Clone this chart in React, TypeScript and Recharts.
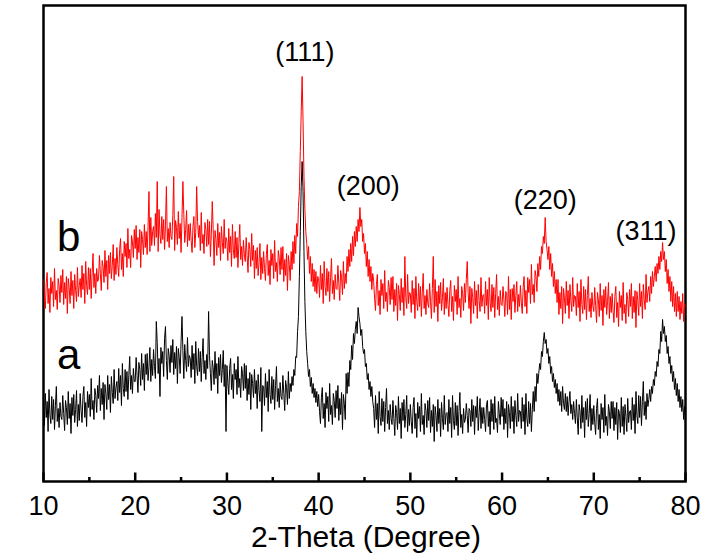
import React from "react";
import { LineChart, Line, XAxis, YAxis, ReferenceArea, ReferenceDot, Label } from "recharts";

// Scan grid (2-Theta, degrees)
const SCAN_START = 10;
const SCAN_STEP = 0.1;

// Sample a (black) intensity, a.u., one value per 0.1 degree from 10 to 80 (rows of 2 degrees)
const seriesA = [
  75, 56, 88, 64, 80, 50, 92, 67, 58, 85, 62, 82, 52, 76, 95, 60, 73, 54, 79, 65,
  62, 86, 68, 51, 81, 74, 57, 90, 63, 78, 48, 84, 66, 87, 59, 72, 91, 55, 77, 61,
  88, 71, 59, 85, 95, 64, 79, 55, 90, 74, 87, 65, 103, 72, 81, 62, 93, 86, 69, 96,
  83, 106, 71, 93, 77, 99, 62, 97, 88, 72, 106, 82, 97, 69, 105, 89, 78, 112, 83, 94,
  100, 81, 113, 89, 106, 76, 118, 93, 85, 112, 90, 110, 82, 106, 125, 92, 106, 88, 113, 100,
  100, 124, 106, 89, 119, 112, 96, 128, 102, 118, 91, 127, 107, 128, 101, 115, 134, 100, 122, 106,
  132, 115, 103, 160, 139, 108, 123, 85, 134, 118, 130, 105, 143, 155, 121, 102, 133, 126, 109, 136,
  119, 142, 107, 129, 113, 135, 98, 133, 124, 108, 140, 165, 131, 103, 137, 121, 110, 144, 115, 126,
  123, 104, 136, 112, 128, 98, 140, 115, 106, 133, 110, 130, 100, 124, 143, 108, 121, 102, 127, 113,
  170, 126, 108, 91, 121, 114, 97, 130, 103, 118, 88, 124, 106, 127, 99, 112, 131, 95, 117, 50,
  116, 99, 87, 113, 123, 92, 107, 83, 118, 102, 112, 87, 125, 94, 103, 84, 115, 108, 91, 118,
  93, 116, 81, 103, 87, 109, 72, 107, 98, 84, 112, 88, 101, 73, 107, 91, 80, 114, 50, 96,
  95, 76, 108, 84, 100, 70, 112, 87, 78, 105, 82, 102, 72, 96, 115, 80, 93, 74, 99, 85,
  82, 106, 88, 71, 101, 94, 77, 110, 83, 98, 90, 105, 96, 112, 106, 125, 124, 150, 165, 205,
  250, 295, 320, 290, 230, 180, 150, 130, 118, 105, 112, 95, 104, 88, 98, 84, 93, 79, 90, 75,
  87, 70, 58, 84, 94, 63, 78, 54, 89, 73, 85, 60, 98, 67, 76, 57, 88, 81, 64, 91,
  73, 96, 61, 83, 67, 89, 52, 87, 78, 62, 108, 88, 109, 95, 121, 112, 136, 122, 148, 138,
  152, 160, 148, 174, 165, 158, 146, 152, 135, 128, 132, 115, 118, 102, 108, 92, 100, 85, 95, 80,
  73, 54, 86, 62, 78, 48, 90, 65, 56, 83, 60, 80, 50, 74, 93, 58, 71, 52, 77, 63,
  57, 81, 63, 46, 76, 69, 52, 85, 58, 73, 43, 79, 61, 82, 54, 67, 86, 50, 72, 56,
  77, 60, 48, 74, 84, 53, 68, 44, 79, 63, 75, 50, 88, 57, 66, 47, 78, 71, 54, 81,
  61, 84, 49, 71, 55, 77, 40, 75, 66, 50, 82, 58, 73, 45, 79, 63, 52, 86, 57, 68,
  69, 50, 82, 58, 74, 44, 86, 61, 52, 79, 56, 76, 46, 70, 89, 54, 67, 48, 73, 59,
  62, 78, 66, 49, 73, 71, 55, 82, 60, 76, 47, 75, 64, 85, 51, 69, 83, 53, 74, 58,
  74, 62, 50, 77, 81, 55, 70, 47, 82, 60, 78, 52, 85, 59, 63, 49, 80, 68, 57, 84,
  65, 82, 52, 73, 58, 80, 44, 77, 69, 53, 85, 60, 75, 48, 81, 66, 55, 88, 60, 71,
  70, 53, 84, 60, 77, 47, 88, 63, 55, 80, 58, 78, 50, 72, 90, 70, 95, 80, 108, 98,
  108, 118, 112, 130, 125, 140, 149, 138, 142, 128, 133, 118, 125, 108, 115, 100, 108, 94, 102, 88,
  98, 80, 92, 76, 90, 70, 95, 78, 72, 88, 70, 85, 66, 80, 90, 68, 77, 62, 80, 68,
  58, 82, 64, 47, 77, 70, 53, 86, 59, 74, 44, 80, 62, 83, 55, 68, 87, 51, 73, 57,
  76, 59, 47, 73, 83, 52, 67, 43, 78, 62, 74, 49, 87, 56, 65, 46, 77, 70, 53, 80,
  63, 80, 51, 74, 57, 79, 42, 72, 68, 49, 84, 55, 75, 47, 77, 65, 50, 83, 59, 70,
  71, 52, 84, 61, 77, 48, 90, 66, 58, 86, 64, 85, 56, 80, 100, 66, 80, 62, 88, 75,
  82, 92, 80, 95, 88, 102, 96, 110, 105, 120, 115, 132, 128, 150, 140, 162, 148, 155, 140, 146,
  128, 135, 118, 125, 108, 116, 100, 110, 92, 103, 86, 98, 80, 92, 74, 85, 70, 82, 62, 75,
  66,
];

// Sample b (red) intensity, a.u., same scan grid
const seriesB = [
  202, 185, 173, 199, 209, 178, 193, 169, 204, 188, 200, 175, 213, 182, 191, 172, 203, 196, 179, 206,
  189, 212, 177, 199, 183, 205, 168, 203, 194, 178, 210, 186, 201, 173, 207, 191, 180, 214, 185, 196,
  203, 184, 216, 192, 208, 178, 220, 196, 187, 214, 192, 213, 183, 208, 228, 194, 208, 188, 213, 200,
  202, 226, 208, 191, 221, 215, 199, 231, 205, 221, 192, 226, 208, 229, 203, 216, 237, 201, 223, 207,
  234, 217, 205, 232, 243, 212, 228, 205, 240, 225, 238, 214, 253, 223, 232, 214, 246, 240, 224, 252,
  233, 256, 222, 244, 229, 252, 214, 250, 242, 227, 257, 234, 250, 227, 255, 290, 230, 264, 236, 250,
  255, 236, 268, 244, 300, 230, 272, 247, 238, 265, 242, 262, 232, 256, 295, 240, 253, 234, 259, 245,
  242, 266, 305, 231, 261, 254, 237, 270, 243, 258, 229, 264, 300, 267, 239, 252, 271, 235, 257, 241,
  258, 241, 229, 255, 265, 234, 249, 295, 260, 244, 256, 231, 269, 238, 247, 228, 259, 252, 235, 262,
  237, 260, 225, 247, 280, 253, 216, 251, 242, 226, 258, 234, 249, 221, 255, 239, 228, 262, 233, 244,
  240, 221, 253, 229, 245, 215, 257, 232, 223, 250, 224, 244, 214, 238, 257, 222, 235, 216, 241, 227,
  220, 244, 226, 209, 239, 232, 215, 248, 221, 236, 203, 231, 213, 234, 206, 219, 238, 202, 224, 208,
  230, 213, 201, 227, 237, 206, 221, 197, 232, 216, 228, 203, 241, 210, 219, 200, 231, 224, 207, 234,
  212, 235, 200, 222, 206, 228, 191, 226, 217, 201, 230, 212, 240, 218, 246, 228, 258, 245, 275, 290,
  330, 370, 405, 360, 305, 272, 250, 238, 222, 235, 208, 225, 200, 218, 195, 212, 190, 210, 188, 205,
  203, 184, 216, 192, 208, 178, 220, 195, 186, 213, 190, 210, 180, 204, 223, 188, 201, 182, 207, 193,
  192, 216, 198, 181, 211, 204, 187, 220, 193, 208, 198, 225, 210, 232, 215, 238, 220, 245, 226, 250,
  235, 255, 240, 262, 250, 274, 255, 262, 240, 248, 228, 238, 215, 230, 205, 222, 200, 215, 192, 208,
  200, 183, 171, 197, 207, 176, 191, 167, 202, 186, 198, 173, 211, 180, 189, 170, 201, 194, 177, 204,
  182, 205, 170, 192, 176, 198, 161, 196, 187, 171, 203, 179, 194, 166, 225, 184, 173, 207, 178, 189,
  188, 169, 201, 177, 193, 163, 205, 180, 171, 198, 175, 195, 165, 189, 208, 173, 186, 167, 192, 178,
  174, 198, 180, 163, 193, 225, 169, 202, 175, 190, 160, 196, 178, 199, 171, 184, 203, 167, 189, 173,
  194, 177, 165, 191, 201, 170, 185, 161, 196, 180, 192, 167, 205, 174, 183, 164, 195, 188, 171, 198,
  179, 202, 220, 189, 173, 195, 158, 193, 184, 168, 200, 176, 191, 163, 197, 181, 170, 204, 175, 186,
  187, 168, 200, 176, 192, 162, 204, 179, 170, 197, 174, 194, 164, 188, 207, 172, 185, 166, 191, 177,
  176, 195, 182, 165, 190, 188, 167, 205, 172, 192, 162, 193, 180, 197, 169, 186, 200, 170, 187, 175,
  196, 179, 168, 194, 205, 175, 191, 168, 204, 189, 202, 178, 217, 187, 197, 179, 211, 205, 190, 218,
  205, 225, 212, 235, 228, 245, 238, 264, 240, 232, 222, 235, 212, 228, 205, 218, 195, 210, 188, 202,
  179, 202, 167, 189, 173, 195, 158, 193, 184, 168, 200, 176, 191, 163, 197, 181, 170, 204, 175, 186,
  185, 166, 198, 174, 190, 160, 202, 177, 168, 195, 172, 192, 162, 186, 205, 170, 183, 164, 189, 175,
  170, 194, 176, 159, 189, 182, 165, 198, 171, 186, 156, 192, 174, 195, 167, 180, 199, 163, 185, 169,
  188, 171, 159, 185, 195, 164, 179, 155, 190, 174, 186, 161, 199, 168, 177, 158, 189, 182, 165, 192,
  175, 198, 163, 185, 169, 191, 154, 190, 181, 166, 198, 175, 190, 163, 197, 182, 172, 207, 179, 190,
  195, 180, 205, 188, 210, 195, 205, 215, 200, 218, 208, 225, 212, 230, 220, 239, 222, 230, 210, 222,
  198, 212, 190, 205, 180, 200, 175, 195, 170, 188, 165, 190, 170, 185, 162, 180, 168, 188, 160, 178,
  175,
];

// X axis ticks
const xTicks = [10, 15, 20, 25, 30, 35, 40, 45, 50, 55, 60, 65, 70, 75, 80];
const xLabeledTicks = [10, 20, 30, 40, 50, 60, 70, 80];

// Peak annotations
const peakLabels = ["(111)", "(200)", "(220)", "(311)"];
const peakLabelAngles = [38.5, 45.4, 64.7, 75.7];
const peakLabelHeights = [430, 296, 282, 251];

// Series letter labels
const seriesLetters = ["b", "a"];
const seriesLetterAngles = [12.75, 12.75];
const seriesLetterHeights = [245, 127];

const FONT = '"Liberation Sans", Arial, Helvetica, sans-serif';

const data = seriesA.map((v, i) => ({
  t: Math.round((SCAN_START + i * SCAN_STEP) * 10) / 10,
  a: v,
  b: seriesB[i],
}));

const CustomTick = (props: any) => {
  const { x, y, payload } = props;
  const v = payload.value;
  const major = xLabeledTicks.includes(v);
  return (
    <g>
      <line x1={x} x2={x} y1={y} y2={y - (major ? 9 : 4.5)} stroke="#000" strokeWidth={2.5} />
      {major && (
        <text x={x} y={y + 33.5} textAnchor="middle" fontSize={27} fontFamily={FONT} fill="#000">
          {v}
        </text>
      )}
    </g>
  );
};

export default function App() {
  return (
    <div style={{ position: "absolute", left: 0, top: 0, width: 708, height: 560, background: "#fff" }}>
      <LineChart
        width={708}
        height={560}
        data={data}
        margin={{ top: 5.5, right: 22.5, bottom: 48.5, left: 43.5 }}
      >
        <XAxis
          dataKey="t"
          type="number"
          domain={[10, 80]}
          ticks={xTicks}
          interval={0}
          height={30}
          axisLine={false}
          tickLine={false}
          tickSize={0}
          tickMargin={0}
          tick={<CustomTick />}
          allowDataOverflow
        >
          <Label
            content={(p: any) => {
              const vb = p.viewBox;
              return (
                <text
                  x={vb.x + vb.width / 2 + 1.5}
                  y={vb.y + 65.5}
                  textAnchor="middle"
                  fontSize={30}
                  fontFamily={FONT}
                  fill="#000"
                >
                  2-Theta (Degree)
                </text>
              );
            }}
          />
        </XAxis>
        <YAxis
          type="number"
          domain={[0, 476]}
          width={0}
          tick={false}
          axisLine={false}
          tickLine={false}
          allowDataOverflow
        >
          <Label
            content={(p: any) => {
              const vb = p.viewBox;
              const cx = vb.x - 10.5;
              const cy = vb.y + vb.height / 2 + 21.5;
              return (
                <text
                  x={cx}
                  y={cy}
                  transform={`rotate(-90 ${cx} ${cy})`}
                  textAnchor="middle"
                  fontSize={30}
                  fontFamily={FONT}
                  fill="#000"
                >
                  Intensity (a.u.)
                </text>
              );
            }}
          />
        </YAxis>
        <Line
          type="linear"
          dataKey="a"
          stroke="#000000"
          strokeWidth={1}
          dot={false}
          isAnimationActive={false}
        />
        <Line
          type="linear"
          dataKey="b"
          stroke="#ff0000"
          strokeWidth={1}
          dot={false}
          isAnimationActive={false}
        />
        <ReferenceArea
          x1={10}
          x2={80}
          y1={0}
          y2={476}
          fill="none"
          stroke="#000"
          strokeWidth={2.5}
          ifOverflow="visible"
        />
        {peakLabels.map((txt, i) => (
          <ReferenceDot
            key={txt}
            x={peakLabelAngles[i]}
            y={peakLabelHeights[i]}
            r={0}
            fill="none"
            stroke="none"
            label={{ value: txt, position: "center", fontSize: 27, fontFamily: FONT, fill: "#000" }}
          />
        ))}
        {seriesLetters.map((txt, i) => (
          <ReferenceDot
            key={txt}
            x={seriesLetterAngles[i]}
            y={seriesLetterHeights[i]}
            r={0}
            fill="none"
            stroke="none"
            label={{ value: txt, position: "center", fontSize: 42, fontFamily: FONT, fill: "#000" }}
          />
        ))}
      </LineChart>
    </div>
  );
}
